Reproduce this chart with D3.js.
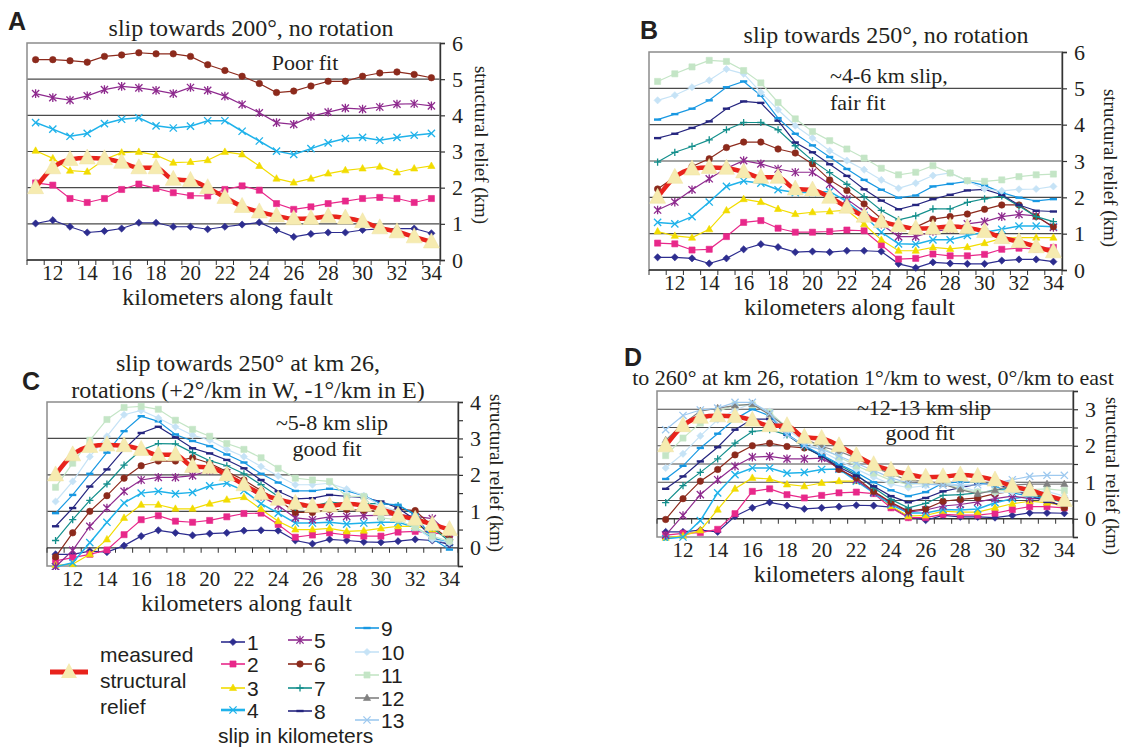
<!DOCTYPE html>
<html>
<head>
<meta charset="utf-8">
<script src="https://cdn.jsdelivr.net/npm/d3@7"></script>
<style>
body { margin: 0; background: #fff; }
text { fill: #231f20; }
.serif { font-family: "Liberation Serif", "Times New Roman", serif; }
.sans { font-family: "Liberation Sans", Arial, sans-serif; }
</style>
</head>
<body>
<svg id="chart" width="1123" height="747"></svg>
<script>
// km along fault (categories) and the even-km tick labels
const km = [11,12,13,14,15,16,17,18,19,20,21,22,23,24,25,26,27,28,29,30,31,32,33,34]
const kmLabels = [12,14,16,18,20,22,24,26,28,30,32,34]

// measured structural relief (km), same in all four panels
const measured = [2.0,2.55,2.78,2.82,2.8,2.7,2.55,2.55,2.23,2.2,2.0,1.73,1.48,1.33,1.22,1.14,1.15,1.2,1.16,1.06,0.89,0.78,0.64,0.5]

// A: slip towards 200°, no rotation (slip 1-6 km)
const slipA = [
  [1.01,1.10,0.92,0.76,0.80,0.87,1.03,1.03,0.92,0.92,0.85,0.92,0.98,1.04,0.83,0.64,0.72,0.76,0.76,0.83,0.86,0.87,0.87,0.74],
  [2.13,2.07,1.70,1.59,1.70,1.95,2.10,1.98,1.86,1.78,1.77,1.95,2.05,1.93,1.56,1.40,1.47,1.56,1.63,1.70,1.73,1.70,1.59,1.70],
  [3.02,2.81,2.47,2.44,2.78,2.97,2.99,2.90,2.69,2.71,2.76,2.99,2.92,2.60,2.25,2.14,2.25,2.39,2.48,2.53,2.58,2.42,2.53,2.60],
  [3.80,3.62,3.42,3.50,3.77,3.89,3.93,3.71,3.65,3.70,3.85,3.85,3.56,3.29,3.01,2.92,3.08,3.24,3.36,3.39,3.31,3.39,3.45,3.50],
  [4.60,4.49,4.42,4.54,4.71,4.80,4.76,4.69,4.60,4.77,4.69,4.53,4.30,4.07,3.80,3.75,3.97,4.09,4.20,4.17,4.23,4.31,4.32,4.26],
  [5.54,5.54,5.51,5.47,5.63,5.67,5.73,5.70,5.70,5.63,5.40,5.24,5.08,4.88,4.63,4.67,4.81,4.94,4.94,5.08,5.17,5.20,5.13,5.04]
]

// B: slip towards 250°, no rotation (slip 1-11 km)
const slipB = [
  [0.35,0.35,0.32,0.18,0.32,0.57,0.71,0.63,0.49,0.51,0.49,0.53,0.53,0.51,0.17,0.06,0.21,0.18,0.17,0.17,0.26,0.29,0.29,0.23],
  [0.74,0.72,0.55,0.57,0.92,1.31,1.36,1.15,1.04,1.04,1.06,1.10,1.08,0.69,0.30,0.32,0.44,0.39,0.39,0.43,0.57,0.60,0.58,0.62],
  [1.06,0.94,0.89,1.12,1.64,1.95,1.87,1.68,1.54,1.59,1.61,1.65,1.26,0.83,0.53,0.53,0.62,0.58,0.63,0.74,0.87,0.89,0.89,0.89],
  [1.31,1.27,1.47,1.87,2.30,2.45,2.39,2.21,2.13,2.13,2.16,1.88,1.50,1.04,0.72,0.71,0.83,0.83,0.95,1.04,1.12,1.21,1.21,1.19],
  [1.65,1.87,2.21,2.51,2.80,3.01,2.92,2.78,2.69,2.69,2.36,1.95,1.61,1.26,0.92,0.92,1.06,1.12,1.27,1.33,1.47,1.53,1.49,1.17],
  [2.23,2.56,2.85,3.06,3.37,3.52,3.52,3.33,3.22,2.92,2.48,2.19,1.82,1.41,1.18,1.18,1.40,1.47,1.54,1.67,1.79,1.79,1.47,1.19],
  [2.97,3.24,3.40,3.58,3.86,4.06,4.06,3.86,3.42,3.01,2.68,2.36,2.02,1.64,1.38,1.49,1.68,1.68,1.86,1.96,2.04,1.76,1.47,1.33],
  [3.63,3.75,3.91,4.09,4.44,4.64,4.60,4.11,3.51,3.24,2.91,2.59,2.22,1.91,1.67,1.79,1.95,2.07,2.19,2.22,2.07,1.79,1.63,1.61],
  [4.14,4.29,4.44,4.67,5.03,5.19,4.80,4.18,3.75,3.43,3.11,2.78,2.48,2.21,1.99,2.05,2.30,2.37,2.44,2.33,2.13,1.99,1.90,1.95],
  [4.67,4.81,5.03,5.22,5.53,5.40,4.89,4.41,3.97,3.63,3.28,3.01,2.76,2.48,2.25,2.39,2.60,2.67,2.45,2.23,2.18,2.22,2.23,2.30],
  [5.19,5.40,5.59,5.77,5.74,5.49,5.15,4.61,4.16,3.81,3.56,3.33,3.08,2.80,2.62,2.69,2.87,2.67,2.46,2.44,2.48,2.57,2.62,2.64]
]

// C: slip towards 250° at km 26 with rotations (slip 1-11 km)
const slipC = [
  [-0.18,-0.18,-0.09,-0.12,0.06,0.32,0.48,0.41,0.34,0.39,0.41,0.47,0.48,0.47,0.20,0.11,0.23,0.20,0.16,0.15,0.18,0.23,0.20,0.09],
  [-0.36,-0.27,-0.18,-0.06,0.36,0.77,0.88,0.73,0.70,0.75,0.85,0.94,0.95,0.64,0.29,0.35,0.41,0.35,0.32,0.32,0.43,0.45,0.41,0.36],
  [-0.48,-0.45,-0.18,0.23,0.82,1.18,1.18,1.07,1.07,1.21,1.32,1.39,1.06,0.73,0.50,0.50,0.53,0.45,0.47,0.53,0.59,0.59,0.50,0.27],
  [-0.52,-0.41,0.14,0.70,1.23,1.50,1.55,1.48,1.52,1.70,1.77,1.57,1.21,0.95,0.68,0.68,0.70,0.65,0.68,0.70,0.70,0.56,0.27,0.14],
  [-0.52,-0.07,0.59,1.09,1.55,1.86,1.93,1.93,1.98,2.12,2.06,1.68,1.41,1.16,0.82,0.77,0.85,0.86,0.88,0.89,0.91,0.86,0.80,0.39],
  [-0.25,0.41,1.00,1.43,1.91,2.25,2.38,2.38,2.47,2.32,2.09,1.86,1.57,1.32,0.97,0.97,1.05,1.05,1.03,1.00,1.06,1.02,0.59,0.23],
  [0.20,0.77,1.30,1.75,2.27,2.68,2.86,2.85,2.61,2.39,2.25,2.03,1.73,1.41,1.11,1.14,1.25,1.21,1.21,1.21,1.16,0.91,0.55,0.18],
  [0.59,1.09,1.68,2.15,2.70,3.15,3.32,3.03,2.73,2.59,2.41,2.18,1.86,1.55,1.34,1.36,1.45,1.41,1.38,1.27,1.09,0.77,0.27,0.09],
  [0.95,1.45,2.03,2.61,3.20,3.61,3.47,3.11,2.93,2.79,2.56,2.34,2.03,1.79,1.56,1.56,1.62,1.56,1.43,1.21,1.18,0.91,0.25,-0.05],
  [1.27,1.82,2.50,3.06,3.65,3.77,3.56,3.32,3.09,2.95,2.70,2.50,2.23,1.97,1.73,1.73,1.77,1.61,1.43,1.15,1.00,0.57,0.23,0.14],
  [1.66,2.32,2.95,3.52,3.85,3.88,3.80,3.50,3.25,3.06,2.86,2.70,2.47,2.18,1.91,1.86,1.82,1.41,1.41,0.82,0.77,0.55,0.32,0.18]
]

// D: to 260° at km 26, rotation 1°/km to west (slip 1-13 km)
const slipD = [
  [-0.36,-0.36,-0.31,-0.36,0.07,0.30,0.45,0.36,0.27,0.30,0.33,0.37,0.36,0.32,0.05,-0.04,0.09,0.05,0.05,0.03,0.09,0.16,0.16,0.15],
  [-0.45,-0.40,-0.38,-0.29,0.14,0.75,0.82,0.66,0.57,0.64,0.71,0.73,0.69,0.30,0.03,0.03,0.12,0.10,0.10,0.15,0.25,0.33,0.33,0.30],
  [-0.52,-0.47,-0.32,0.25,0.82,1.12,1.09,0.94,0.89,0.98,1.03,1.03,0.75,0.35,0.07,0.09,0.21,0.18,0.18,0.30,0.41,0.48,0.44,0.35],
  [-0.55,-0.50,-0.05,0.71,1.21,1.39,1.39,1.25,1.27,1.35,1.36,1.03,0.71,0.39,0.16,0.16,0.25,0.24,0.27,0.44,0.55,0.62,0.62,0.48],
  [-0.45,0.09,0.66,1.07,1.44,1.69,1.71,1.64,1.64,1.66,1.39,1.07,0.73,0.44,0.18,0.24,0.35,0.39,0.46,0.55,0.62,0.55,0.55,0.48],
  [-0.02,0.55,1.03,1.35,1.75,2.00,2.07,1.98,1.94,1.75,1.35,1.12,0.75,0.45,0.21,0.27,0.48,0.53,0.57,0.69,0.75,0.69,0.53,0.30],
  [0.44,0.91,1.27,1.64,2.07,2.39,2.44,2.30,1.96,1.71,1.48,1.21,0.85,0.53,0.30,0.42,0.64,0.66,0.71,0.78,0.85,0.75,0.55,0.45],
  [0.82,1.16,1.57,1.96,2.44,2.73,2.73,2.30,1.98,1.71,1.42,1.18,0.89,0.62,0.45,0.57,0.75,0.85,0.95,0.96,0.80,0.64,0.46,0.37],
  [1.09,1.45,1.94,2.33,2.73,3.00,2.82,2.32,2.00,1.75,1.50,1.27,1.00,0.78,0.62,0.73,0.98,1.00,1.00,0.89,0.71,0.62,0.55,0.53],
  [1.39,1.78,2.27,2.71,2.98,3.16,2.94,2.45,2.12,1.85,1.60,1.36,1.14,0.95,0.85,0.91,1.03,0.89,0.75,0.71,0.73,0.75,0.75,0.62],
  [1.73,2.21,2.62,2.94,3.12,3.12,2.91,2.51,2.18,1.96,1.69,1.45,1.25,1.05,0.94,0.98,1.00,0.82,0.73,0.75,0.80,0.80,0.82,0.77],
  [2.15,2.60,2.95,3.03,3.10,3.14,2.85,2.50,2.20,1.98,1.85,1.66,1.41,1.23,1.05,1.03,0.95,0.80,0.68,0.78,0.92,0.95,0.95,0.95],
  [2.44,2.83,2.98,3.03,3.19,3.19,2.89,2.30,2.00,1.90,1.72,1.52,1.32,1.12,0.98,0.95,0.92,0.92,0.93,0.97,1.07,1.16,1.19,1.19]
]

const slipNames = ["1","2","3","4","5","6","7","8","9","10","11","12","13"]
const slipColors = ["#2d2d8f","#e8288a","#f2dc00","#1fb2ea","#8e2a8e","#8c2a1c","#138f8c","#25257f","#1898e2","#c6e3f6","#c4e5c6","#808080","#9ec9ef"]
const slipMarkers = ["diamond","square","triangle","x","asterisk","circle","plus","dash","dash","diamond","square","triangle","x"]

const RED = "#e8231c"
const TRI_FILL = "#f6ebb0"

const svg = d3.select("#chart")

function markerPath(type, r) {
  switch (type) {
    case "diamond": return `M0,${-r}L${r},0L0,${r}L${-r},0Z`
    case "square": return `M${-r*0.85},${-r*0.85}h${r*1.7}v${r*1.7}h${-r*1.7}Z`
    case "triangle": return `M0,${-r*1.1}L${r},${r*0.7}L${-r},${r*0.7}Z`
    case "circle": return `M${r*0.9},0A${r*0.9},${r*0.9} 0 1,1 ${-r*0.9},0A${r*0.9},${r*0.9} 0 1,1 ${r*0.9},0Z`
    case "x": return `M${-r},${-r}L${r},${r}M${-r},${r}L${r},${-r}`
    case "asterisk": return `M${-r},${-r}L${r},${r}M${-r},${r}L${r},${-r}M0,${-r*1.2}L0,${r*1.2}`
    case "plus": return `M${-r},0L${r},0M0,${-r}L0,${r}`
    case "dash": return `M${-r},0L${r},0`
  }
}
const filledMarkers = ["diamond","square","triangle","circle"]

function drawMarker(g, type, color, cx, cy, r) {
  const filled = filledMarkers.includes(type)
  g.append("path")
    .attr("d", markerPath(type, r))
    .attr("transform", `translate(${cx},${cy})`)
    .attr("fill", filled ? color : "none")
    .attr("stroke", color)
    .attr("stroke-width", filled ? 0.6 : (type == "dash" ? 2.4 : 1.3))
}

const panels = [
  { letter: "A", letterX: 8, letterY: 30, data: slipA,
    left: 27, right: 440, top: 43, bottom: 260, yDomain: [0, 6],
    grid: [1,2,3,4,5], yTicks: [0,1,2,3,4,5,6],
    title: ["slip towards 200°, no rotation"], titleX: 251, titleY: [36],
    notes: [{ t: "Poor fit", x: 305, y: 70, anchor: "middle" }],
    yTitleX: 479, yTitleY: 145 },
  { letter: "B", letterX: 640, letterY: 39, data: slipB,
    left: 649, right: 1062, top: 52, bottom: 270, yDomain: [0, 6],
    grid: [1,2,3,4,5], yTicks: [0,1,2,3,4,5,6],
    title: ["slip towards 250°, no rotation"], titleX: 886, titleY: [43],
    notes: [{ t: "~4-6 km slip,", x: 830, y: 83, anchor: "start" },
            { t: "fair fit", x: 830, y: 110, anchor: "start" }],
    yTitleX: 1108, yTitleY: 168 },
  { letter: "C", letterX: 22, letterY: 390, data: slipC,
    left: 47, right: 458, top: 402, bottom: 566, yDomain: [-0.5, 4],
    grid: [1,2,3], yTicks: d3.range(-0.5, 4.01, 0.5),
    title: ["slip towards 250° at km 26,", "rotations (+2°/km in W, -1°/km in E)"],
    titleX: 248, titleY: [371, 398],
    notes: [{ t: "~5-8 km slip", x: 332, y: 430, anchor: "middle" },
            { t: "good fit", x: 327, y: 456, anchor: "middle" }],
    yTitleX: 494, yTitleY: 473 },
  { letter: "D", letterX: 624, letterY: 366, data: slipD,
    left: 657, right: 1073, top: 391, bottom: 537, yDomain: [-0.5, 3.5],
    grid: [0.5,1,1.5,2,2.5,3], yTicks: d3.range(-0.5, 3.51, 0.5),
    title: ["to 260° at km 26, rotation 1°/km to west, 0°/km to east"],
    titleX: 873, titleY: [385],
    notes: [{ t: "~12-13 km slip", x: 924, y: 415, anchor: "middle" },
            { t: "good fit", x: 920, y: 440, anchor: "middle" }],
    yTitleX: 1110, yTitleY: 476 }
]

panels.forEach((p, pi) => {
  const x = d3.scaleLinear().domain([10.5, 34.5]).range([p.left, p.right])
  const y = d3.scaleLinear().domain(p.yDomain).range([p.bottom, p.top])
  const g = svg.append("g")

  // panel letter and title
  g.append("text").attr("class", "sans")
    .attr("x", p.letterX).attr("y", p.letterY)
    .attr("font-size", 25).attr("font-weight", "bold")
    .text(p.letter)
  p.title.forEach((t, i) => {
    g.append("text").attr("class", "serif")
      .attr("x", p.titleX).attr("y", p.titleY[i])
      .attr("text-anchor", "middle").attr("font-size", p.letter == "D" ? 22 : 24)
      .text(t)
  })

  // gridlines
  g.selectAll(".grid").data(p.grid).enter().append("line")
    .attr("x1", p.left).attr("x2", p.right)
    .attr("y1", d => y(d)).attr("y2", d => y(d))
    .attr("stroke", "#4a4a4a").attr("stroke-width", 1.2)

  // plot frame
  g.append("rect")
    .attr("x", p.left).attr("y", p.top)
    .attr("width", p.right - p.left).attr("height", p.bottom - p.top)
    .attr("fill", "none").attr("stroke", "#8c8c8c").attr("stroke-width", 1.5)

  // category axis along zero
  const y0 = y(0)
  g.append("line").attr("x1", p.left).attr("x2", p.right)
    .attr("y1", y0).attr("y2", y0).attr("stroke", "#333").attr("stroke-width", 1.3)
  g.selectAll(".xt").data(d3.range(10.5, 35, 1)).enter().append("line")
    .attr("x1", d => x(d)).attr("x2", d => x(d))
    .attr("y1", y0).attr("y2", y0 + 5)
    .attr("stroke", "#333").attr("stroke-width", 1)
  g.selectAll(".xl").data(kmLabels).enter().append("text")
    .attr("class", "serif")
    .attr("x", d => x(d)).attr("y", p.bottom + 20)
    .attr("text-anchor", "middle").attr("font-size", 21)
    .text(d => d)
  g.append("text").attr("class", "serif")
    .attr("x", (p.left + p.right) / 2 - 6).attr("y", p.bottom + 45)
    .attr("text-anchor", "middle").attr("font-size", 24)
    .text("kilometers along fault")

  // right value axis
  const yAxis = d3.axisRight(y).tickValues(p.yTicks).tickSize(5).tickPadding(7)
    .tickFormat(d => Number.isInteger(d) && d >= 0 ? d : "")
  const ya = g.append("g").attr("transform", `translate(${p.right},0)`).call(yAxis)
  ya.select(".domain").attr("stroke", "#333").attr("stroke-width", 1.4)
  ya.selectAll(".tick line").attr("stroke", "#333").attr("stroke-width", 1.2)
  ya.selectAll(".tick text").attr("class", "serif").attr("font-size", 22).attr("fill", "#231f20")
  g.append("text").attr("class", "serif")
    .attr("transform", `translate(${p.yTitleX},${p.yTitleY}) rotate(90)`)
    .attr("text-anchor", "middle").attr("dominant-baseline", "middle")
    .attr("font-size", 19)
    .text("structural relief (km)")

  // notes
  p.notes.forEach(n => {
    g.append("text").attr("class", "serif")
      .attr("x", n.x).attr("y", n.y).attr("text-anchor", n.anchor)
      .attr("font-size", 22).text(n.t)
  })

  // series, clipped to the plot area
  const clipId = "clip" + pi
  svg.append("clipPath").attr("id", clipId).append("rect")
    .attr("x", p.left).attr("y", p.top - 4)
    .attr("width", p.right - p.left + 4).attr("height", p.bottom - p.top + 8)
  const plot = g.append("g").attr("clip-path", `url(#${clipId})`)

  const line = d3.line().x((d, i) => x(km[i])).y(d => y(d))
  p.data.forEach((vals, si) => {
    const c = slipColors[si]
    plot.append("path").datum(vals)
      .attr("d", line).attr("fill", "none")
      .attr("stroke", c).attr("stroke-width", si == 3 ? 1.5 : 1.2)
    vals.forEach((v, i) => drawMarker(plot, slipMarkers[si], c, x(km[i]), y(v), 3.6))
  })

  // measured structural relief on top
  const smooth = d3.line().x((d, i) => x(km[i])).y(d => y(d)).curve(d3.curveMonotoneX)
  plot.append("path").datum(measured)
    .attr("d", smooth).attr("fill", "none")
    .attr("stroke", RED).attr("stroke-width", 4.5)
  measured.forEach((v, i) => {
    plot.append("path")
      .attr("d", "M0,-9L8,6L-8,6Z")
      .attr("transform", `translate(${x(km[i])},${y(v)})`)
      .attr("fill", TRI_FILL).attr("stroke", "#efe2a0").attr("stroke-width", 0.5)
  })
})

// legend
const lg = svg.append("g")
lg.append("line").attr("x1", 50).attr("x2", 88).attr("y1", 672).attr("y2", 672)
  .attr("stroke", RED).attr("stroke-width", 5)
lg.append("path").attr("d", "M0,-9L8,6L-8,6Z").attr("transform", "translate(69,672)")
  .attr("fill", TRI_FILL)
;["measured", "structural", "relief"].forEach((t, i) => {
  lg.append("text").attr("class", "sans")
    .attr("x", 100).attr("y", 662 + i * 26).attr("font-size", 21).text(t)
})

const legendCols = [
  { x: 221, ys: [642, 664, 688, 710], items: [0,1,2,3] },
  { x: 288, ys: [640, 664, 688, 711], items: [4,5,6,7] },
  { x: 355, ys: [628, 652, 675, 698, 720], items: [8,9,10,11,12] }
]
legendCols.forEach(col => {
  col.items.forEach((si, j) => {
    const yy = col.ys[j]
    const c = slipColors[si]
    lg.append("line").attr("x1", col.x).attr("x2", col.x + 24)
      .attr("y1", yy).attr("y2", yy)
      .attr("stroke", c).attr("stroke-width", si == 3 ? 2.6 : 1.6)
    drawMarker(lg, slipMarkers[si], c, col.x + 12, yy, 3.6)
    lg.append("text").attr("class", "sans")
      .attr("x", col.x + 26).attr("y", yy + 8).attr("font-size", 21)
      .text(slipNames[si])
  })
})
lg.append("text").attr("class", "sans")
  .attr("x", 218).attr("y", 743).attr("font-size", 21).text("slip in kilometers")
</script>
</body>
</html>
